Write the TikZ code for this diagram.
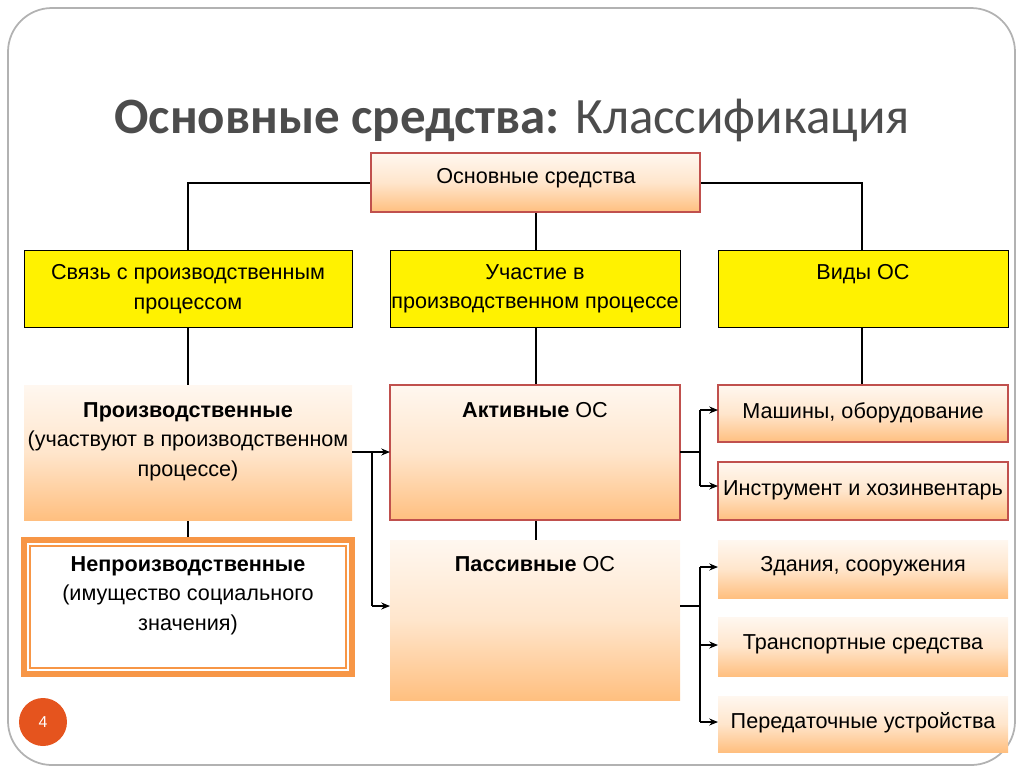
\documentclass[tikz,border=0pt]{standalone}
\usepackage{fontspec}
\setmainfont{Liberation Sans}
\newfontfamily\ttlfont{Carlito}
\usetikzlibrary{arrows.meta}
\definecolor{bord}{HTML}{C0504D}
\definecolor{org}{HTML}{F79646}
\definecolor{pgc}{HTML}{E5541E}
\tikzset{
 gbox/.style={rectangle,inner sep=0pt,top color=orange!6,bottom color=orange!50!white,middle color=orange!20},
 rbox/.style={gbox,draw=bord,line width=1.6pt},
 ybox/.style={rectangle,fill=yellow,draw=black,line width=0.5pt},
 ln/.style={line width=0.6pt,black},
 ar/.style={ln,-{Stealth[length=5pt,width=4pt]}},
 txt/.style={font=\fontsize{12.3}{17}\selectfont,align=center,anchor=north}
}
\begin{document}
\begin{tikzpicture}[x=0.02cm,y=-0.02cm]
\useasboundingbox (0,0) rectangle (1021,769);
\draw[gray!60,line width=1pt,rounded corners=25pt] (8,8) rectangle (1015,765);
\node[font=\ttlfont\fontsize{29}{34}\selectfont,text=black!70] (title) at (512,120) {\textbf{Основные средства:} Классификация};
% top
\draw[ln] (188,250) |- (862,183) -- (862,250);
\draw[ln] (536,212) -- (536,250);
\path[rbox] (371,153) rectangle (700,212);
\node[txt] (top) at (536,162) {Основные средства};
% yellow
\draw[ybox] (24,250) rectangle (352,327);
\draw[ybox] (390,250) rectangle (680,327);
\draw[ybox] (718,250) rectangle (1008,327);
\node[txt] (y1) at (188,258) {Связь с производственным\\процессом};
\node[txt] (y2) at (535,258) {Участие в\\производственном процессе};
\node[txt] (y3) at (863,258) {Виды ОС};
\draw[ln] (188,327)--(188,538);
\draw[ln] (536,327)--(536,540);
\draw[ln] (862,327)--(862,385);
% left
\path[gbox] (24,385) rectangle (352,520);
\node[txt] (p) at (188,396) {\textbf{Производственные}\\(участвуют в производственном\\процессе)};
\path[fill=white,draw=org,line width=3pt] (24,540) rectangle (352,674);
\draw[org,line width=0.6pt] (30,546) rectangle (346,668);
\node[txt] (np) at (188,550) {\textbf{Непроизводственные}\\(имущество социального\\значения)};
% middle
\path[rbox] (390,385) rectangle (680,520);
\node[txt] (a) at (535,396) {\textbf{Активные} ОС};
\path[gbox] (390,540) rectangle (680,700);
\node[txt] (ps) at (535,550) {\textbf{Пассивные} ОС};
% arrows left-mid
\coordinate (l1) at (372,452);
\draw[ln] (352,452)--(l1)--(372,606);
\draw[ar] (l1)--(390,452);
\draw[ar] (372,606)--(390,606);
% right
\path[rbox] (718,385) rectangle (1008,442);
\path[rbox] (718,462) rectangle (1008,520);
\path[gbox] (718,540) rectangle (1008,598);
\path[gbox] (718,617) rectangle (1008,676);
\path[gbox] (718,696) rectangle (1008,752);
\node[txt] (r1) at (863,396) {Машины, оборудование};
\node[txt] (r2) at (863,474) {Инструмент и хозинвентарь};
\node[txt] (r3) at (863,550) {Здания, сооружения};
\node[txt] (r4) at (863,628) {Транспортные средства};
\node[txt] (r5) at (863,706) {Передаточные устройства};
\draw[ln] (680,452)--(700,452);
\draw[ln] (700,410)--(700,486);
\draw[ar] (700,410)--(718,410);
\draw[ar] (700,486)--(718,486);
\draw[ln] (680,606)--(700,606);
\draw[ln] (700,567)--(700,722);
\draw[ar] (700,567)--(718,567);
\draw[ar] (700,645)--(718,645);
\draw[ar] (700,722)--(718,722);
% page number
\node[circle,fill=pgc,minimum size=0.96cm,inner sep=0pt,text=white,font=\fontsize{9}{10}\selectfont] (pg) at (43,722) {4};
\end{tikzpicture}
\end{document}
